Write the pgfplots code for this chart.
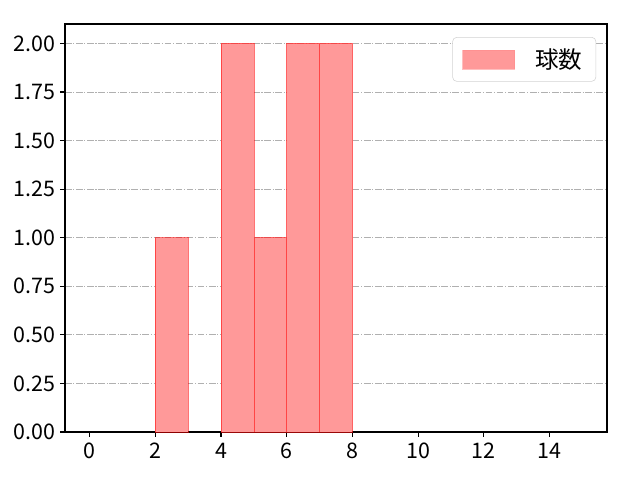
\documentclass[border=0pt]{standalone}
\usepackage{fontspec}
\setmainfont{Noto Sans CJK JP}
\usepackage{pgfplots}
\pgfplotsset{compat=1.18}

\definecolor{barfill}{RGB}{255,153,153}
\definecolor{gridgray}{RGB}{176,176,176}

\begin{document}
\begin{tikzpicture}
    \useasboundingbox (-0.65in,-0.48in) rectangle (5.75in,4.32in);
    \begin{axis}[
        at={(0,0)}, anchor=south west,
        scale only axis,
        width=5.42in, height=4.08in,
        xmin=-0.75, xmax=15.75,
        ymin=0, ymax=2.1,
        xtick={0,2,...,14},
        ytick={0,0.25,...,2},
        yticklabel style={/pgf/number format/.cd, fixed, fixed zerofill, precision=2},
        /pgf/number format/assume math mode=true,
        tick align=outside,
        tick pos=left,
        major tick length=3.5pt,
        axis line style={line width=0.9pt},
        every tick/.style={black, line width=0.9pt},
        ymajorgrids,
        grid style={gridgray, line width=0.7pt, dash pattern=on 4.8pt off 1.2pt on 0.8pt off 1.2pt},
        tick label style={font=\fontsize{15.5}{18}\selectfont},
        xticklabel style={yshift=-1pt},
        legend style={at={(0.98,0.968)}, anchor=north east, draw=gray!35, rounded corners=3pt,
            font=\fontsize{17}{20}\selectfont, inner xsep=7pt, inner ysep=5pt,
            legend cell align=left, nodes={inner sep=3pt}},
        legend image code/.code={\draw[sharp corners, fill=barfill, draw=red!45] (0in,-0.095in) rectangle (0.52in,0.095in);},
    ]
    \addplot[ybar interval, fill=barfill, draw=red, draw opacity=0.55] coordinates {
        (2,1) (3,1)
    };
    \addlegendentry{\hspace{0.16in}球数}
    \addplot[ybar interval, fill=barfill, draw=red, draw opacity=0.55, forget plot] coordinates {
        (4,2) (5,1) (6,2) (7,2) (8,2)
    };
    \end{axis}
\end{tikzpicture}
\end{document}
